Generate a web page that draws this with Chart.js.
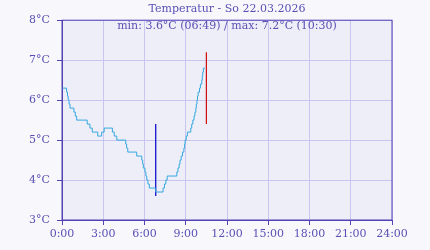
<!DOCTYPE html>
<html lang="de">
<head>
<meta charset="utf-8">
<title>Temperatur</title>
<script src="https://cdn.jsdelivr.net/npm/chart.js"></script>
<style>
  html, body { margin: 0; padding: 0; background: #f8f8fc; }
  canvas { display: block; }
</style>
</head>
<body>
<canvas id="tempChart" width="430" height="250"></canvas>
<script>
// minutes after midnight where the reading changes, and the reading from then on
const times = [0, 20, 24, 27, 31, 35, 52, 58, 64, 110, 122, 132, 156, 169, 173, 184,
  220, 228, 239, 278, 282, 287, 326, 348, 352, 355, 362, 366, 370, 375, 381, 409,
  441, 447, 453, 459, 501, 506, 511, 515, 520, 526, 532, 535, 537, 542, 547,
  562, 566, 571, 576, 580, 584, 586, 589, 591, 594, 600, 604, 610, 612, 614, 617, 624];
const temps = [6.3, 6.2, 6.1, 6.0, 5.9, 5.8, 5.7, 5.6, 5.5, 5.4, 5.3, 5.2, 5.1, 5.1, 5.2, 5.3,
  5.2, 5.1, 5.0, 4.9, 4.8, 4.7, 4.6, 4.5, 4.4, 4.3, 4.2, 4.1, 4.0, 3.9, 3.8, 3.7,
  3.8, 3.9, 4.0, 4.1, 4.2, 4.3, 4.4, 4.5, 4.6, 4.7, 4.8, 4.9, 5.0, 5.1, 5.2,
  5.3, 5.4, 5.5, 5.6, 5.7, 5.8, 5.9, 6.0, 6.1, 6.2, 6.3, 6.4, 6.5, 6.6, 6.7, 6.8, 6.8];

// min / max markers (hour, from, to)
const minTime = 6 + 49 / 60;
const minLine = [3.6, 5.4];
const maxTime = 10.5;
const maxLine = [7.2, 5.4];

const xTicks = [0, 3, 6, 9, 12, 15, 18, 21, 24];
const yTicks = [3, 4, 5, 6, 7, 8];

const titleText = 'Temperatur - So 22.03.2026';
const subText = 'min: 3.6°C (06:49) / max: 7.2°C (10:30)';

const axisColor = '#5242b2';
const gridColor = '#c6c6f0';
const textColor = '#5a50b4';
const font = { family: '"DejaVu Serif", serif', size: 11 };

const plotFrame = {
  id: 'plotFrame',
  beforeDraw(chart) {
    const a = chart.chartArea, ctx = chart.ctx;
    ctx.save();
    ctx.fillStyle = '#eeeef9';
    ctx.fillRect(a.left, a.top, a.width, a.height);
    ctx.restore();
  },
  afterDraw(chart) {
    const a = chart.chartArea, ctx = chart.ctx;
    ctx.save();
    ctx.strokeStyle = axisColor;
    ctx.lineWidth = 1;
    ctx.strokeRect(a.left, a.top, a.width, a.height);
    ctx.fillStyle = textColor;
    ctx.font = '11px "DejaVu Serif", serif';
    ctx.textAlign = 'center';
    ctx.textBaseline = 'middle';
    ctx.fillText(subText, (a.left + a.right) / 2, a.top + 6);
    ctx.restore();
  }
};

new Chart(document.getElementById('tempChart'), {
  type: 'line',
  data: {
    datasets: [{
      data: times.map((t, i) => ({ x: t / 60, y: temps[i] })),
      stepped: true,
      borderColor: '#35a9de',
      borderWidth: 1,
      pointRadius: 0
    }, {
      data: minLine.map(v => ({ x: minTime, y: v })),
      borderColor: '#0000c8',
      borderWidth: 1.2,
      pointRadius: 0
    }, {
      data: maxLine.map(v => ({ x: maxTime, y: v })),
      borderColor: '#d01010',
      borderWidth: 1.2,
      pointRadius: 0
    }]
  },
  options: {
    responsive: false,
    animation: false,
    layout: { padding: { left: 0, right: 38, top: 0, bottom: 0 } },
    plugins: {
      legend: { display: false },
      tooltip: { enabled: false },
      title: {
        display: true,
        fullSize: false,
        text: titleText,
        color: textColor,
        font: { family: font.family, size: 11, weight: 'normal' },
        padding: { top: 3, bottom: 4 }
      }
    },
    scales: {
      x: {
        type: 'linear',
        min: 0,
        max: 24,
        afterBuildTicks: s => { s.ticks = xTicks.map(v => ({ value: v })); },
        afterFit: s => { s.height = 30; },
        ticks: { callback: v => v + ':00', color: textColor, font: font, padding: 3, maxRotation: 0 },
        grid: { color: gridColor, tickColor: axisColor, tickLength: 5 },
        border: { color: axisColor, width: 1 }
      },
      y: {
        min: 3,
        max: 8,
        afterBuildTicks: s => { s.ticks = yTicks.map(v => ({ value: v })); },
        afterFit: s => { s.width = 62; },
        ticks: { callback: v => v + '°C', color: textColor, font: font, padding: 7 },
        grid: { color: gridColor, tickColor: axisColor, tickLength: 5 },
        border: { color: axisColor, width: 1 }
      }
    }
  },
  plugins: [plotFrame]
});
</script>
</body>
</html>
